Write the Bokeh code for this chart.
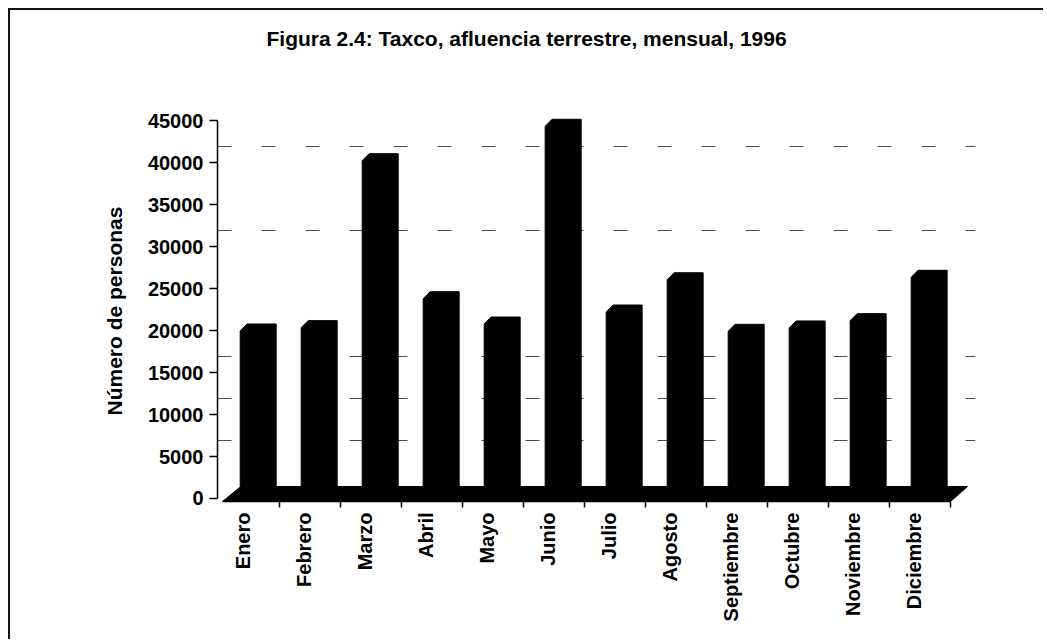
import numpy as np
from bokeh.plotting import figure
from bokeh.models import Range1d, FixedTicker, ColumnDataSource, Label, Title
from bokeh.embed import file_html
from bokeh.resources import INLINE

# ---------------- data ----------------
months = ["Enero", "Febrero", "Marzo", "Abril", "Mayo", "Junio", "Julio",
          "Agosto", "Septiembre", "Octubre", "Noviembre", "Diciembre"]
visitors = [20800, 21200, 41100, 24650, 21630, 45200, 23060,
            26910, 20760, 21160, 22030, 27200]
y_ticks = [0, 5000, 10000, 15000, 20000, 25000, 30000, 35000, 40000, 45000]
title_text = "Figura 2.4: Taxco, afluencia terrestre, mensual, 1996"
y_label = "Número de personas"

# ---------------- style ----------------
FONT = "Liberation Sans"
BAR_HALF = 0.295          # half bar width (category units)
CHAMFER_X = 0.115         # 3D top-left corner
CHAMFER_Y = 830
DEPTH_X = 0.30            # depth shift of the floor (category units)
FLOOR_TOP = 1430
FLOOR_BOT = -358
GRID_SHIFT = 1900         # back-wall gridline shift
LABEL_SHIFT = 0.25        # category labels sit at the front
TICK_SHIFT = 0.357
TITLE_X = 4.40            # title placement (data units, top of the frame)
TITLE_Y = 54830

n = len(months)
idx = list(range(n))

p = figure(width=1035, height=631,
           x_range=Range1d(-0.667, 11.76), y_range=Range1d(FLOOR_BOT, 57570),
           output_backend="svg", toolbar_location=None,
           min_border_left=207, min_border_right=70,
           min_border_top=5, min_border_bottom=140)
p.background_fill_color = "white"
p.border_fill_color = "white"
p.outline_line_color = None
p.styles = {"margin-left": "8px", "margin-top": "8px",
            "border-top": "2px solid #111", "border-left": "2px solid #111"}

# title (placed as a label inside the upper, empty part of the frame)
p.add_layout(Label(x=TITLE_X, y=TITLE_Y, text=title_text,
                   text_align="center", text_baseline="middle",
                   text_font=FONT, text_font_style="bold",
                   text_font_size="21px", text_color="#000000"))

# gridlines on the back wall (partly washed out)
p.xgrid.visible = False
p.ygrid.ticker = FixedTicker(ticks=[t + GRID_SHIFT for t in (5000, 10000, 15000, 30000, 40000)])
p.ygrid.grid_line_color = "#000000"
p.ygrid.grid_line_alpha = 0.7
p.ygrid.grid_line_width = 1.2
p.ygrid.grid_line_dash = "14 30"

# floor slab
floor_x = [-0.585, -0.585 + DEPTH_X, (n - 1) + 0.35 + DEPTH_X - 0.02, (n - 1) + 0.35]
floor_y = [FLOOR_BOT, FLOOR_TOP, FLOOR_TOP, FLOOR_BOT]
p.patch(floor_x, floor_y, fill_color="#000000", line_color="#000000")

# bars with chamfered top-left corner
xs = [[i - BAR_HALF, i - BAR_HALF, i - BAR_HALF + CHAMFER_X, i + BAR_HALF, i + BAR_HALF] for i in idx]
ys = [[0, v - CHAMFER_Y, v, v, 0] for v in visitors]
src = ColumnDataSource(dict(xs=xs, ys=ys, month=months, value=visitors))
p.patches("xs", "ys", source=src, fill_color="#000000", line_color="#000000")

# x axis
xa = p.xaxis[0]
xa.ticker = FixedTicker(ticks=[i - LABEL_SHIFT for i in idx],
                        minor_ticks=[i + TICK_SHIFT for i in idx])
xa.major_label_overrides = {i - LABEL_SHIFT: m for i, m in zip(idx, months)}
xa.major_label_orientation = np.pi / 2
xa.major_tick_line_color = None
xa.major_tick_out = 0
xa.major_tick_in = 0
xa.minor_tick_line_color = "#000000"
xa.minor_tick_line_width = 1.5
xa.minor_tick_out = 6
xa.minor_tick_in = 0
xa.major_label_standoff = 5
xa.major_label_text_font = FONT
xa.major_label_text_font_style = "bold"
xa.major_label_text_font_size = "20px"
xa.major_label_text_color = "#000000"
xa.axis_line_color = "#000000"
xa.axis_line_width = 1.5
xa.bounds = (-0.585, (n - 1) + 0.35)

# y axis
ya = p.yaxis[0]
ya.ticker = FixedTicker(ticks=y_ticks)
ya.bounds = (0, y_ticks[-1])
ya.major_label_text_font = FONT
ya.major_label_text_font_style = "bold"
ya.major_label_text_font_size = "20px"
ya.major_label_text_color = "#000000"
ya.major_label_standoff = 6
ya.major_tick_out = 8
ya.major_tick_in = 0
ya.major_tick_line_color = "#000000"
ya.major_tick_line_width = 1.5
ya.minor_tick_line_color = None
ya.axis_line_color = "#000000"
ya.axis_line_width = 1.5

# y-axis title, set beside the value axis (start aligned near its lower part)
p.add_layout(Title(text=y_label, align="left", offset=86, standoff=38,
                   text_font=FONT, text_font_style="bold",
                   text_font_size="21px", text_color="#000000"), "left")

open("out.html", "w").write(file_html(p, INLINE))
